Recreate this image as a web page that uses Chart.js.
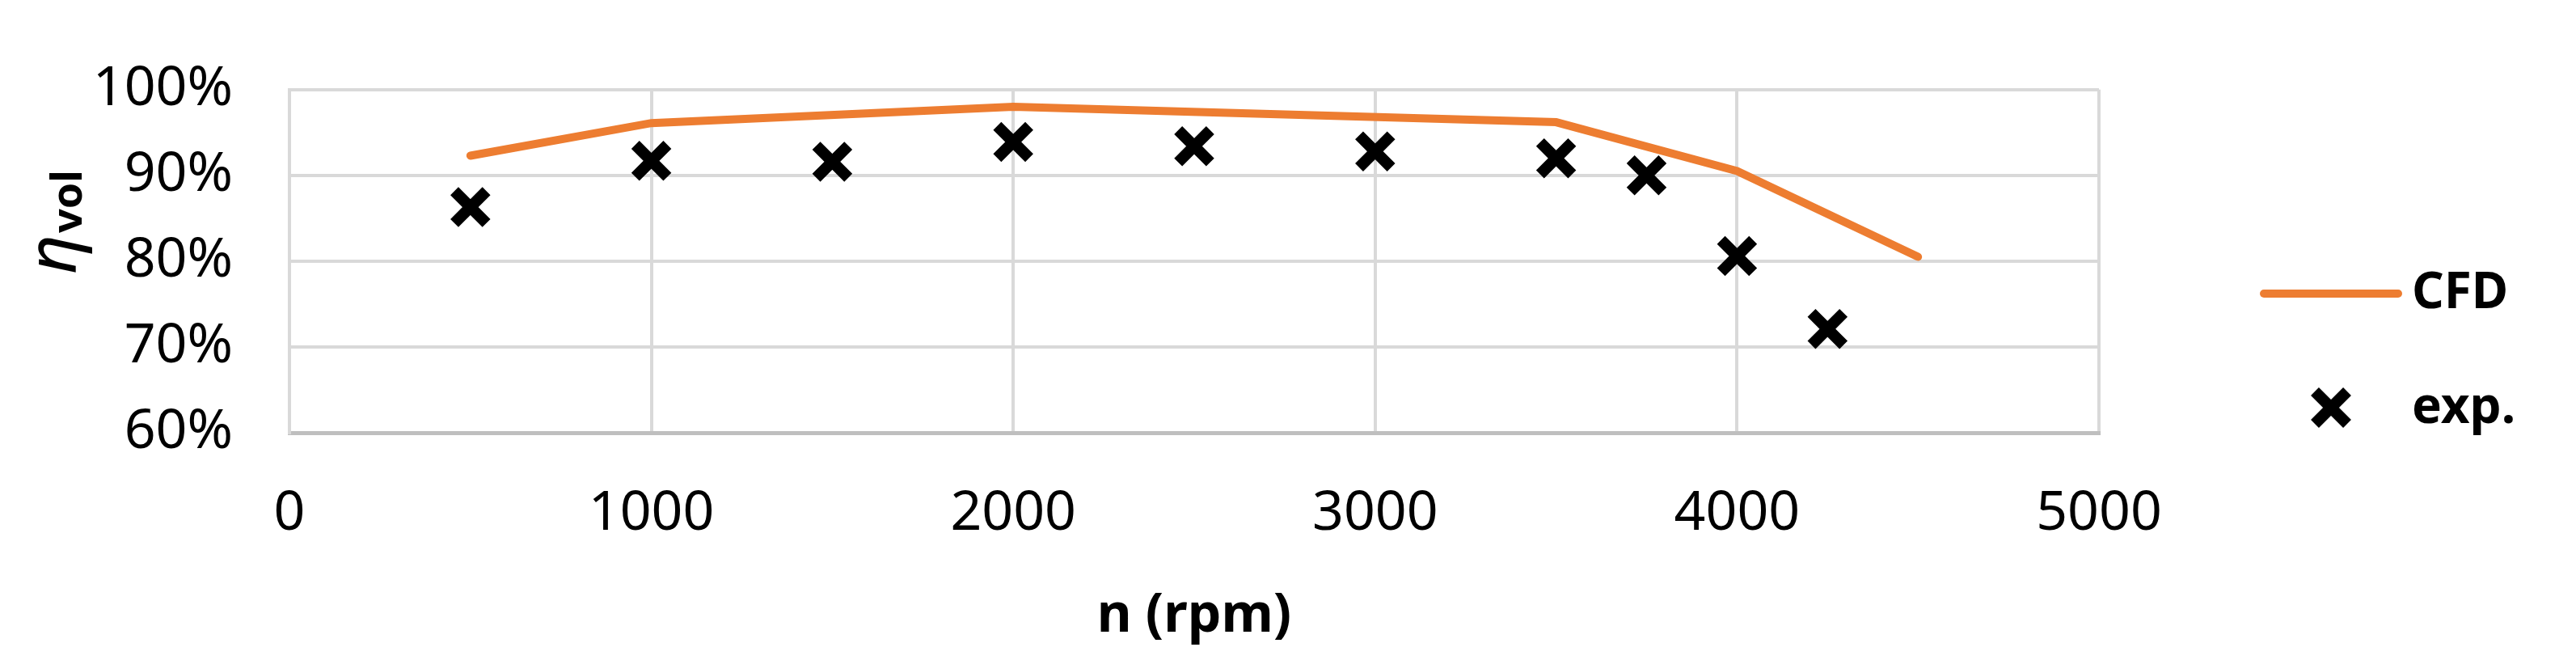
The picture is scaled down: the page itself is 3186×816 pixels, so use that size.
<!DOCTYPE html>
<html><head><meta charset="utf-8">
<script src="https://cdn.jsdelivr.net/npm/chart.js@4"></script>
<style>html,body{margin:0;background:#fff}#wrap{width:3186px;height:816px}</style>
</head><body><div id="wrap"><canvas id="c"></canvas></div>
<script>
const FONT = "'Liberation Sans Narrow', 'Noto Sans', sans-serif";
const cfdRpm = [500, 1000, 2000, 3500, 4000, 4500];
const cfdEta = [92.3, 96.1, 98.0, 96.2, 90.5, 80.5];
const expRpm = [500, 1000, 1500, 2000, 2500, 3000, 3500, 3750, 4000, 4250];
const expEta = [86.3, 91.7, 91.6, 93.9, 93.4, 92.8, 92.0, 90.0, 80.6, 72.1];

// titres + légende dessinés à la main
const extras = {
  id: 'extras',
  afterDraw(chart) {
    const c = chart.ctx;
    c.save();
    c.fillStyle = '#000';
    c.font = 'bold 66px ' + FONT;
    c.textAlign = 'center'; c.textBaseline = 'middle';
    c.fillText('n (rpm)', 1477, 762);
    c.save();
    c.translate(66, 300); c.rotate(-Math.PI / 2);
    c.font = 'italic 84px ' + FONT;
    c.textAlign = 'right';
    c.fillText('η', 10, 4);
    c.font = 'bold 52px ' + FONT;
    c.textAlign = 'left';
    c.fillText('vol', 12, 20);
    c.restore();
    // légende
    c.strokeStyle = '#ED7D31'; c.lineWidth = 10; c.lineCap = 'round';
    c.beginPath(); c.moveTo(2800, 363); c.lineTo(2966, 363); c.stroke();
    c.font = 'bold 62px ' + FONT; c.textAlign = 'left';
    c.fillText('CFD', 2983, 363);
    c.fillText('exp.', 2983, 505);
    c.strokeStyle = '#000'; c.lineWidth = 14; c.lineCap = 'butt';
    const mx = 2883, my = 504, r = 20;
    c.beginPath(); c.moveTo(mx - r, my - r); c.lineTo(mx + r, my + r);
    c.moveTo(mx + r, my - r); c.lineTo(mx - r, my + r); c.stroke();
    c.restore();
  }
};

new Chart(document.getElementById('c'), {
  type: 'scatter',
  data: { datasets: [
    { label: 'CFD', data: cfdRpm.map((x, i) => ({ x, y: cfdEta[i] })), showLine: true,
      borderColor: '#ED7D31', borderWidth: 10, pointRadius: 0, borderCapStyle: 'round' },
    { label: 'exp.', data: expRpm.map((x, i) => ({ x, y: expEta[i] })),
      pointStyle: 'crossRot', pointRadius: 28, pointBorderWidth: 14,
      borderColor: '#000', backgroundColor: '#000' }
  ]},
  options: {
    responsive: true, maintainAspectRatio: false, animation: false,
    layout: { padding: { top: 0, right: 590, bottom: 0, left: 0 } },
    plugins: { legend: { display: false }, tooltip: { enabled: false } },
    scales: {
      x: { type: 'linear', min: 0, max: 5000,
        ticks: { stepSize: 1000, padding: 60, color: '#000', font: { family: FONT, size: 68 },
          callback: v => String(v) },
        grid: { color: '#D9D9D9', lineWidth: 4, drawTicks: false },
        border: { color: '#BFBFBF', width: 5 },
        afterFit(s) { s.height = 281; } },
      y: { min: 60, max: 100,
        ticks: { stepSize: 10, padding: 70, color: '#000', font: { family: FONT, size: 68 },
          callback: v => v + '%' },
        grid: { color: '#D9D9D9', lineWidth: 4, drawTicks: false },
        border: { color: '#D9D9D9', width: 4 },
        afterFit(s) { s.width = 358; } }
    }
  },
  plugins: [extras]
});
</script></body></html>
